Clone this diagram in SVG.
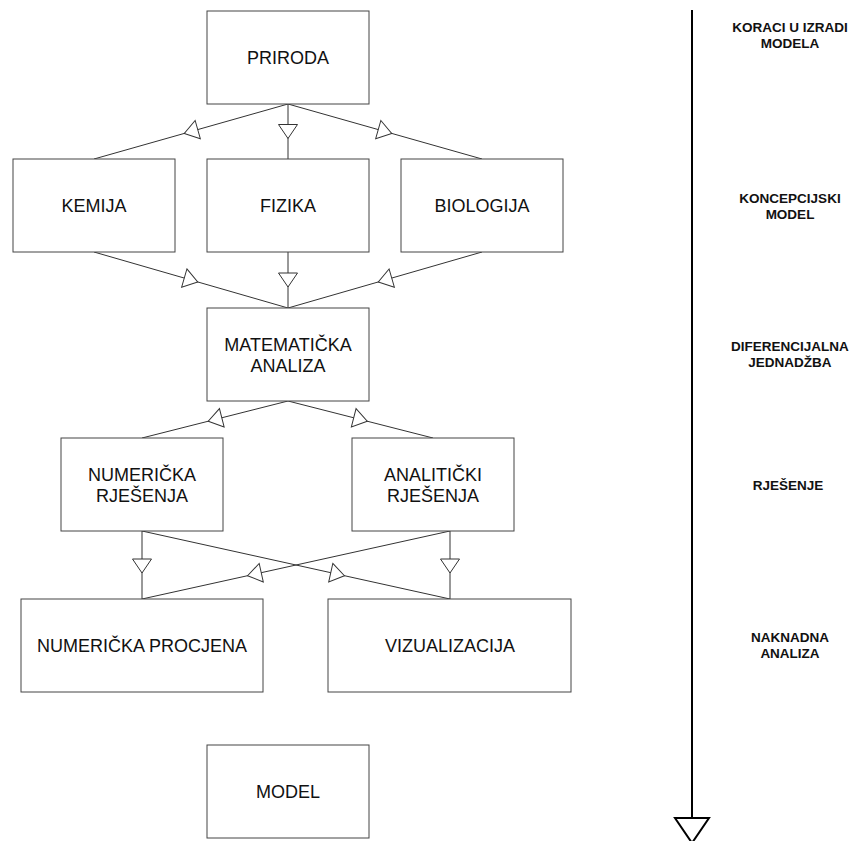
<svg xmlns="http://www.w3.org/2000/svg" width="852" height="841" viewBox="0 0 852 841">
<defs>
<style>
.box rect{fill:#fff;stroke:#444;stroke-width:1}
.box text{font-family:"Liberation Sans",Arial,sans-serif;font-size:18px;fill:#111;text-anchor:middle}
.conn path{fill:none;stroke:#333;stroke-width:1;marker-mid:url(#tri)}
.lbl{font-family:"Liberation Sans",Arial,sans-serif;font-size:13.5px;font-weight:bold;fill:#111;text-anchor:middle}
</style>
<marker id="tri" markerUnits="userSpaceOnUse" viewBox="-1 -11 16 22" markerWidth="16" markerHeight="22" refX="7" refY="0" orient="auto" overflow="visible">
<path d="M0,-9.5 L14,0 L0,9.5 Z" fill="#fff" stroke="#333" stroke-width="1"/>
</marker>
</defs>
<rect width="852" height="841" fill="#fff"/>
<g id="connectors" class="conn">
<path d="M288,104 L191,131.5 L94,159"/>
<path d="M288,104 L288,131.5 L288,159"/>
<path d="M288,104 L385,131.5 L482,159"/>
<path d="M94,252 L191,280 L288,308"/>
<path d="M288,252 L288,280 L288,308"/>
<path d="M482,252 L385,280 L288,308"/>
<path d="M288,401 L215,419.5 L142,438"/>
<path d="M288,401 L360.5,419.5 L433,438"/>
<path d="M142,531 L142,566 L142,599"/>
<path d="M450,531 L450,566 L450,599"/>
<path d="M142,531 L337.6,574.2 L450,599"/>
<path d="M450,531 L254.4,574.2 L142,599"/>
</g>
<g id="priroda" class="box"><rect x="207" y="11" width="162" height="93"/><text x="288" y="64">PRIRODA</text></g>
<g id="kemija" class="box"><rect x="13" y="159" width="162" height="93"/><text x="94" y="212">KEMIJA</text></g>
<g id="fizika" class="box"><rect x="207" y="159" width="162" height="93"/><text x="288" y="212">FIZIKA</text></g>
<g id="biologija" class="box"><rect x="401" y="159" width="162" height="93"/><text x="482" y="212">BIOLOGIJA</text></g>
<g id="matematicka" class="box"><rect x="207" y="308" width="162" height="93"/><text x="288" y="351">MATEMATIČKA</text><text x="288" y="372">ANALIZA</text></g>
<g id="numericka" class="box"><rect x="61" y="438" width="162" height="93"/><text x="142" y="481">NUMERIČKA</text><text x="142" y="502">RJEŠENJA</text></g>
<g id="analiticki" class="box"><rect x="352" y="438" width="162" height="93"/><text x="433" y="481">ANALITIČKI</text><text x="433" y="502">RJEŠENJA</text></g>
<g id="procjena" class="box"><rect x="21" y="599" width="242" height="93"/><text x="142" y="652">NUMERIČKA PROCJENA</text></g>
<g id="vizualizacija" class="box"><rect x="328" y="599" width="243" height="93"/><text x="450" y="652">VIZUALIZACIJA</text></g>
<g id="model" class="box"><rect x="207" y="745" width="162" height="93"/><text x="288" y="798">MODEL</text></g>
<g id="axis">
<line x1="692" y1="10" x2="692" y2="818" stroke="#000" stroke-width="2"/>
<polygon points="675,818 709,818 692,843" fill="#fff" stroke="#000" stroke-width="2"/>
</g>
<g id="labels">
<text class="lbl" x="790" y="32">KORACI U IZRADI</text>
<text class="lbl" x="790" y="48">MODELA</text>
<text class="lbl" x="790" y="203">KONCEPCIJSKI</text>
<text class="lbl" x="790" y="219">MODEL</text>
<text class="lbl" x="790" y="351">DIFERENCIJALNA</text>
<text class="lbl" x="790" y="367">JEDNADŽBA</text>
<text class="lbl" x="788" y="490">RJEŠENJE</text>
<text class="lbl" x="790" y="642">NAKNADNA</text>
<text class="lbl" x="790" y="658">ANALIZA</text>
</g>
</svg>
